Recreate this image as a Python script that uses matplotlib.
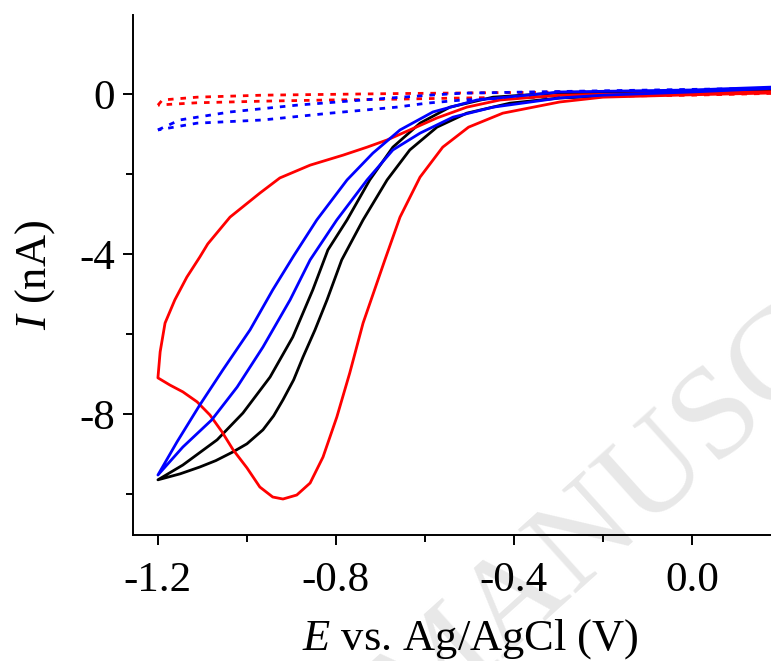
import numpy as np
import matplotlib
matplotlib.use("Agg")
import matplotlib.pyplot as plt

plt.rcParams['font.family'] = 'Liberation Serif'
plt.rcParams['mathtext.fontset'] = 'custom'
plt.rcParams['mathtext.it'] = 'Liberation Serif:italic'
plt.rcParams['mathtext.rm'] = 'Liberation Serif'

# black CV (solid): forward scan 0.2 -> -1.2, then back
blk_E_fwd = [0.2, 0.0, -0.2, -0.297, -0.409, -0.506, -0.573, -0.634, -0.685, -0.739,
             -0.787, -0.820, -0.847, -0.874, -0.895, -0.919, -0.94, -0.964, -1.0,
             -1.031, -1.07, -1.106, -1.15, -1.2]
blk_I_fwd = [0.05, 0.0, -0.06, -0.1, -0.23, -0.48, -0.83, -1.4, -2.15, -3.15,
             -4.15, -5.15, -5.9, -6.58, -7.15, -7.65, -8.05, -8.4, -8.75,
             -8.95, -9.17, -9.33, -9.5, -9.65]
blk_E_rev = [-1.2, -1.144, -1.067, -1.009, -0.948, -0.897, -0.852, -0.818, -0.775,
             -0.724, -0.672, -0.611, -0.544, -0.447, -0.297, 0.0, 0.2]
blk_I_rev = [-9.65, -9.28, -8.65, -7.98, -7.08, -6.08, -4.9, -3.9, -3.15,
             -2.15, -1.33, -0.73, -0.33, -0.08, 0.03, 0.05, 0.1]

# blue CV (solid)
blu_E_fwd = [0.2, 0.0, -0.2, -0.297, -0.447, -0.537, -0.611, -0.672, -0.730, -0.798,
             -0.858, -0.903, -0.964, -1.022, -1.079, -1.144, -1.2]
blu_I_fwd = [0.15, 0.05, -0.03, -0.1, -0.33, -0.58, -0.98, -1.4, -2.15, -3.15,
             -4.15, -5.15, -6.33, -7.33, -8.15, -8.83, -9.53]
blu_E_rev = [-1.2, -1.157, -1.106, -1.054, -0.993, -0.942, -0.895, -0.843, -0.775,
             -0.717, -0.656, -0.582, -0.483, -0.297, 0.0, 0.2]
blu_I_rev = [-9.53, -8.7, -7.78, -6.9, -5.9, -4.9, -4.05, -3.15, -2.15,
             -1.48, -0.9, -0.45, -0.15, 0.05, 0.1, 0.18]

# red CV (solid)
red_E_fwd = [0.2, 0.0, -0.2, -0.297, -0.425, -0.502, -0.560, -0.611, -0.656, -0.690,
             -0.739, -0.769, -0.798, -0.829, -0.858, -0.888, -0.919, -0.942, -0.971,
             -1.0, -1.031, -1.056, -1.083, -1.112, -1.144, -1.173, -1.2]
red_I_fwd = [0.03, -0.02, -0.08, -0.2, -0.48, -0.83, -1.33, -2.08, -3.08, -4.15,
             -5.73, -6.98, -8.08, -9.08, -9.73, -10.03, -10.13, -10.08, -9.83,
             -9.35, -8.9, -8.45, -8.03, -7.7, -7.45, -7.28, -7.1]
red_E_rev = [-1.2, -1.195, -1.184, -1.162, -1.135, -1.106, -1.088, -1.038, -0.971,
             -0.926, -0.858, -0.784, -0.730, -0.685, -0.634, -0.573, -0.506, -0.431,
             -0.297, 0.0, 0.2]
red_I_rev = [-7.1, -6.45, -5.73, -5.15, -4.58, -4.08, -3.75, -3.08, -2.48,
             -2.1, -1.78, -1.53, -1.33, -1.15, -0.9, -0.6, -0.33, -0.15,
             -0.03, 0.03, 0.06]

# dotted (blank) scans
rdot_E_a = [0.2, 0.0, -0.364, -0.515, -0.664, -0.813, -0.964, -1.112, -1.19, -1.2]
rdot_I_a = [0.02, -0.03, -0.08, -0.1, -0.13, -0.15, -0.18, -0.22, -0.27, -0.28]
rdot_E_b = [-1.2, -1.19, -1.112, -0.964, -0.813, -0.664, -0.364, 0.2]
rdot_I_b = [-0.28, -0.15, -0.08, -0.03, -0.01, 0.01, 0.04, 0.1]

bdot_E_a = [0.2, 0.0, -0.2, -0.364, -0.515, -0.596, -0.664, -0.813, -0.964, -1.112,
            -1.19, -1.2]
bdot_I_a = [0.12, 0.05, -0.02, -0.08, -0.15, -0.23, -0.33, -0.48, -0.65, -0.73,
            -0.88, -0.9]
bdot_E_b = [-1.2, -1.151, -1.038, -0.888, -0.739, -0.589, -0.515, -0.364, 0.2]
bdot_I_b = [-0.9, -0.65, -0.45, -0.28, -0.15, -0.03, 0.02, 0.05, 0.15]

fig = plt.figure(figsize=(7.71, 6.61), dpi=100)
ax = fig.add_axes([133/771, 126/661, 692/771, 520/661])
ax.patch.set_visible(False)

# faint watermark behind everything
fig.text(415/771, 1 - 735/661, "MANUSCRIPT", fontsize=95, color='#e8e8e8',
         rotation=42, rotation_mode='anchor', ha='left', va='baseline', zorder=-1)

lw = 2.0
dots = (0, (2, 2.5))
ax.plot(rdot_E_a, rdot_I_a, color='red', lw=lw, ls=dots)
ax.plot(rdot_E_b, rdot_I_b, color='red', lw=lw, ls=dots)
ax.plot(bdot_E_a, bdot_I_a, color='blue', lw=lw, ls=dots)
ax.plot(bdot_E_b, bdot_I_b, color='blue', lw=lw, ls=dots)
ax.plot(blk_E_fwd + blk_E_rev, blk_I_fwd + blk_I_rev, color='black', lw=lw)
ax.plot(red_E_fwd + red_E_rev, red_I_fwd + red_I_rev, color='red', lw=lw)
ax.plot(blu_E_fwd + blu_E_rev, blu_I_fwd + blu_I_rev, color='blue', lw=lw)

ax.set_xlim(-1.256, 0.299)
ax.set_ylim(-11.03, 1.975)
ax.set_xticks([-1.2, -0.8, -0.4, 0.0])
ax.set_xticklabels(['-1.2', '-0.8', '-0.4', '0.0'])
ax.set_xticks([-1.0, -0.6, -0.2], minor=True)
ax.set_yticks([0, -4, -8])
ax.set_yticklabels(['0', '-4', '-8'])
ax.set_yticks([-2, -6, -10], minor=True)

for s in ['top', 'right']:
    ax.spines[s].set_visible(False)
for s in ['left', 'bottom']:
    ax.spines[s].set_linewidth(1.4)
ax.tick_params(which='major', direction='out', length=7, width=1.4, labelsize=31, pad=12)
ax.tick_params(which='minor', direction='out', length=5, width=1.4)
ax.tick_params(axis='y', which='major', pad=6)

ax.set_xlabel(r'$E$ vs. Ag/AgCl (V)', fontsize=32)
ax.set_ylabel(r'$I$ (nA)', fontsize=32, labelpad=16)
ax.xaxis.set_label_coords((470 - 133) / 692, -0.157)

fig.savefig("out.png", dpi=100)
